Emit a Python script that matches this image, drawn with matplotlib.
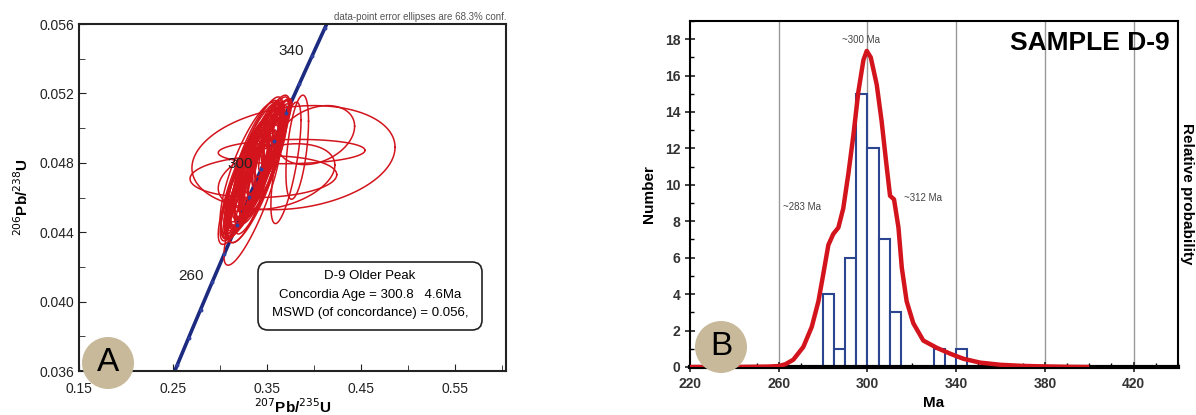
import numpy as np
import matplotlib
matplotlib.use('Agg')
import matplotlib.pyplot as plt
from matplotlib.patches import FancyBboxPatch, Ellipse
from matplotlib.transforms import IdentityTransform
from matplotlib.ticker import MultipleLocator

plt.rcParams['font.family'] = ['Liberation Sans', 'DejaVu Sans']

# ---- panel A data: error ellipses (centre, 1-sigma, correlation) ----
ell_x = [0.322, 0.325, 0.322, 0.328, 0.326, 0.331, 0.329, 0.334, 0.332, 0.337,
         0.334, 0.339, 0.336, 0.341, 0.338, 0.343, 0.340, 0.345, 0.342, 0.347,
         0.344, 0.349, 0.346, 0.348, 0.352, 0.350, 0.353, 0.355, 0.358, 0.360,
         0.336, 0.344, 0.350, 0.330, 0.337, 0.340, 0.325, 0.327, 0.343, 0.332,
         0.333, 0.339, 0.345, 0.329, 0.351, 0.336, 0.331, 0.341, 0.347, 0.326,
         0.355, 0.338,
         0.378, 0.376, 0.402, 0.346, 0.360, 0.334, 0.330, 0.382, 0.370]
ell_y = [0.0456, 0.0460, 0.0462, 0.0464, 0.0466, 0.0468, 0.0470, 0.0470, 0.0472, 0.0472,
         0.0474, 0.0474, 0.0476, 0.0476, 0.0478, 0.0478, 0.0480, 0.0480, 0.0482, 0.0482,
         0.0484, 0.0484, 0.0486, 0.0488, 0.0488, 0.0490, 0.0492, 0.0494, 0.0496, 0.0498,
         0.0469, 0.0475, 0.0481, 0.0467, 0.0479, 0.0485, 0.0463, 0.0471, 0.0487, 0.0477,
         0.0473, 0.0477, 0.0483, 0.0465, 0.0487, 0.0481, 0.0474, 0.0470, 0.0478, 0.0468,
         0.0490, 0.0466,
         0.0483, 0.04865, 0.0496, 0.0472, 0.0472, 0.0458, 0.0462, 0.0489, 0.0480]
ell_sx = [0.016, 0.020, 0.024, 0.018, 0.026, 0.020, 0.028, 0.018, 0.024, 0.022,
          0.030, 0.019, 0.026, 0.021, 0.028, 0.017, 0.025, 0.020, 0.027, 0.018,
          0.024, 0.019, 0.022, 0.026, 0.018, 0.023, 0.020, 0.018, 0.017, 0.016,
          0.029, 0.023, 0.021, 0.025, 0.030, 0.027, 0.022, 0.026, 0.024, 0.032,
          0.020, 0.024, 0.022, 0.018, 0.021, 0.028, 0.026, 0.020, 0.023, 0.025,
          0.019, 0.022,
          0.108, 0.078, 0.041, 0.078, 0.062, 0.030, 0.022, 0.012, 0.016]
ell_sy = [0.0019, 0.0024, 0.0029, 0.0022, 0.0031, 0.0025, 0.0034, 0.0022, 0.0030, 0.0027,
          0.0036, 0.0023, 0.0032, 0.0026, 0.0034, 0.0021, 0.0031, 0.0025, 0.0033, 0.0022,
          0.0030, 0.0023, 0.0027, 0.0031, 0.0022, 0.0028, 0.0024, 0.0022, 0.0021, 0.0019,
          0.0035, 0.0028, 0.0026, 0.0030, 0.0036, 0.0033, 0.0027, 0.0032, 0.0029, 0.0038,
          0.0025, 0.0030, 0.0028, 0.0022, 0.0026, 0.0035, 0.0033, 0.0025, 0.0029, 0.0031,
          0.0024, 0.0027,
          0.0030, 0.0007, 0.0017, 0.0012, 0.0019, 0.0037, 0.0028, 0.0030, 0.0035]
ell_rho = [0.82, 0.85, 0.80, 0.86, 0.83, 0.84, 0.81, 0.87, 0.83, 0.85,
           0.80, 0.86, 0.82, 0.84, 0.81, 0.87, 0.83, 0.85, 0.82, 0.86,
           0.83, 0.86, 0.84, 0.82, 0.87, 0.84, 0.85, 0.86, 0.87, 0.86,
           0.80, 0.84, 0.85, 0.82, 0.80, 0.81, 0.83, 0.81, 0.83, 0.78,
           0.84, 0.82, 0.85, 0.86, 0.85, 0.80, 0.81, 0.84, 0.83, 0.82,
           0.86, 0.84,
           0.20, 0.10, 0.30, 0.10, 0.35, 0.85, 0.75, 0.50, 0.70]

# concordia ages (Ma) and decay constants
conc_age = np.arange(200, 380, 1.0)
age_marks = [260, 300, 340]
L238 = 1.55125e-10
L235 = 9.8485e-10

# ---- panel B data: histogram and probability curve ----
bin_left = [280, 285, 290, 295, 300, 305, 310, 330, 340]
bin_count = [4, 1, 6, 15, 12, 7, 3, 1, 1]
curve_age = [220, 240, 255, 260, 263, 266.6, 271.1, 274.9, 277.9, 280.1, 282.4, 284.6,
             286.9, 289.1, 291.4, 293.7, 295.9, 298.2, 299.7, 301.5, 304.2, 306.4,
             308.4, 310.2, 312.0, 314.0, 315.5, 317.7, 320.7, 325.2, 331.3, 337.3,
             343.3, 350.8, 360, 370, 380, 390, 400]
curve_val = [0.0, 0.0, 0.02, 0.05, 0.15, 0.4, 1.1, 2.2, 3.6, 5.1, 6.7, 7.3,
             7.65, 8.7, 10.6, 12.75, 15.1, 16.85, 17.35, 17.0, 15.5, 13.5,
             11.3, 9.4, 9.2, 7.65, 5.45, 3.6, 2.4, 1.45, 1.05, 0.73,
             0.45, 0.24, 0.12, 0.06, 0.03, 0.01, 0.0]

red = '#d3141c'
navy = '#1c2a80'
tan = '#c8b99a'
W, H = 1196, 415

fig = plt.figure(figsize=(11.96, 4.15), dpi=100)

# ================= panel A =================
ax = fig.add_axes([0.0661, 0.106, 0.357, 0.836])
ax.set_xlim(0.15, 0.604)
ax.set_ylim(0.036, 0.056)

t206 = np.exp(L238 * conc_age * 1e6) - 1
t207 = np.exp(L235 * conc_age * 1e6) - 1
ax.plot(t207, t206, color=navy, lw=2.6, zorder=2)

tt = np.linspace(0, 2 * np.pi, 120)
for cx, cy, sx, sy, r in zip(ell_x, ell_y, ell_sx, ell_sy, ell_rho):
    ex = cx + sx * np.cos(tt)
    ey = cy + sy * (r * np.cos(tt) + np.sqrt(1 - r * r) * np.sin(tt))
    ax.plot(ex, ey, color=red, lw=1.1, zorder=3)

m206 = np.exp(L238 * np.arange(230, 360, 10) * 1e6) - 1
m207 = np.exp(L235 * np.arange(230, 360, 10) * 1e6) - 1
ax.plot(m207, m206, 'o', color='#3040a0', ms=1.8, zorder=4)

for a in age_marks:
    y = np.exp(L238 * a * 1e6) - 1
    x = np.exp(L235 * a * 1e6) - 1
    ax.text(x - 0.009, y + 0.0003, str(a), ha='right', va='center', fontsize=11,
            color='#222222', zorder=5)

ax.set_xticks([0.15, 0.25, 0.35, 0.45, 0.55])
ax.set_xticklabels(['0.15', '0.25', '0.35', '0.45', '0.55'])
ax.xaxis.set_minor_locator(MultipleLocator(0.05))
ax.set_yticks([0.036, 0.040, 0.044, 0.048, 0.052, 0.056])
ax.set_yticklabels(['0.036', '0.040', '0.044', '0.048', '0.052', '0.056'])
ax.yaxis.set_minor_locator(MultipleLocator(0.002))
ax.tick_params(which='both', direction='in', labelsize=10, colors='#222222')
ax.tick_params(which='major', length=5)
ax.tick_params(which='minor', length=4)
ax.tick_params(axis='x', pad=8)
for s in ax.spines.values():
    s.set_linewidth(1.5)
    s.set_color('#222222')

ax.set_xlabel(r'$^{207}$Pb/$^{235}$U', fontsize=11, fontweight='bold', labelpad=1)
ax.set_ylabel(r'$^{206}$Pb/$^{238}$U', fontsize=11, fontweight='bold', labelpad=6)

ax.text(1.0, 1.005, 'data-point error ellipses are 68.3% conf.', transform=ax.transAxes,
        ha='right', va='bottom', fontsize=7, color='#555555')

# result box (pixel coordinates)
box = FancyBboxPatch((258, H - 330), 224, 68, boxstyle='round,pad=0,rounding_size=10',
                     transform=IdentityTransform(), fc='white', ec='#222222', lw=1.2, zorder=6)
fig.add_artist(box)
for txt, py in [('D-9 Older Peak', 276), ('Concordia Age = 300.8   4.6Ma', 295),
                ('MSWD (of concordance) = 0.056,', 313)]:
    fig.text(370 / W, 1 - py / H, txt, ha='center', va='center', fontsize=9.5, zorder=7)

fig.add_artist(Ellipse((108 / W, 1 - 363 / H), 52 / W, 52 / H, transform=fig.transFigure,
                       fc=tan, ec='none', zorder=10))
fig.text(108 / W, 1 - 362 / H, 'A', ha='center', va='center', fontsize=24, zorder=11)

# ================= panel B =================
bx = fig.add_axes([0.5769, 0.1157, 0.408, 0.834])
bx.set_xlim(220, 440)
bx.set_ylim(0, 19)

for g in [260, 300, 340, 380, 420]:
    bx.axvline(g, color='#999999', lw=1.0, zorder=1)

bx.bar(bin_left, bin_count, width=5, align='edge', fc='white', ec='#2b4590', lw=1.5, zorder=2)
bx.plot(curve_age, curve_val, color=red, lw=3.2, solid_capstyle='butt', zorder=3)

bx.set_xticks([220, 260, 300, 340, 380, 420])
bx.xaxis.set_minor_locator(MultipleLocator(10))
bx.set_yticks([0, 2, 4, 6, 8, 10, 12, 14, 16, 18])
bx.yaxis.set_minor_locator(MultipleLocator(1))
bx.tick_params(which='major', direction='inout', length=7, width=1.3, labelsize=10,
               colors='#333333')
bx.tick_params(which='minor', direction='in', length=3, width=1)
for lab in bx.get_xticklabels() + bx.get_yticklabels():
    lab.set_fontweight('bold')
for s in bx.spines.values():
    s.set_linewidth(1.5)
bx.spines['bottom'].set_linewidth(3)

bx.set_xlabel('Ma', fontsize=11, fontweight='bold', labelpad=4)
bx.set_ylabel('Number', fontsize=11, fontweight='bold', labelpad=6)
bx.text(1.018, 0.5, 'Relative probability', transform=bx.transAxes, rotation=-90,
        ha='center', va='center', fontsize=11, fontweight='bold')

bx.text(1.0 - 0.017, 0.935, 'SAMPLE D-9', transform=bx.transAxes, ha='right', va='center',
        fontsize=19, fontweight='bold')
bx.text(297, 17.95, '~300 Ma', ha='center', va='center', fontsize=7, color='#444444')
bx.text(270.7, 8.8, '~283 Ma', ha='center', va='center', fontsize=7, color='#444444')
bx.text(325, 9.25, '~312 Ma', ha='center', va='center', fontsize=7, color='#444444')

fig.add_artist(Ellipse((721 / W, 1 - 347 / H), 52 / W, 52 / H, transform=fig.transFigure,
                       fc=tan, ec='none', zorder=10))
fig.text(721 / W, 1 - 346 / H, 'B', ha='center', va='center', fontsize=24, zorder=11)

fig.savefig('out.png', dpi=100)
